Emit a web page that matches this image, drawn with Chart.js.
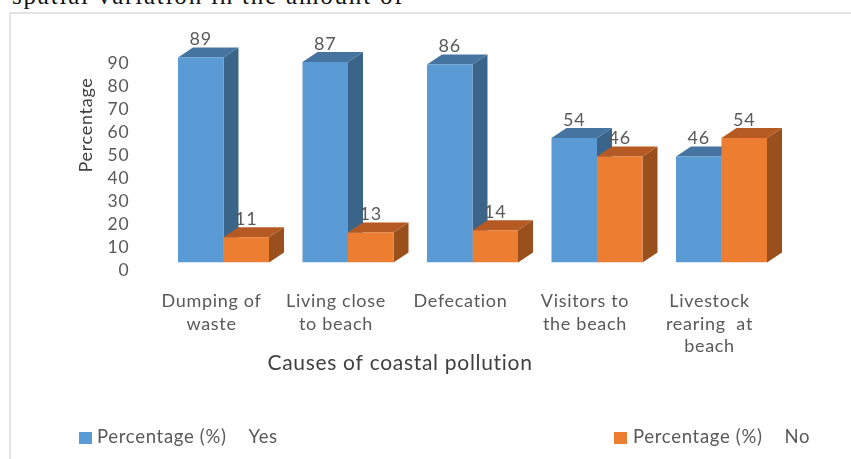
<!DOCTYPE html>
<html>
<head>
<meta charset="utf-8">
<script src="https://cdn.jsdelivr.net/npm/chart.js@4"></script>
<style>
  html, body { margin: 0; padding: 0; background: #fff; overflow: hidden; }
  #caption { position: absolute; left: 12px; top: -18px; font: 25px "Liberation Serif", serif; letter-spacing: 1.8px; color: #111; white-space: pre; }
  #frame { position: absolute; left: 9px; top: 12px; width: 900px; height: 500px; border: 2px solid #e2e2e2; box-sizing: border-box; }
  #myChart { position: absolute; left: 0; top: 0; }
</style>
</head>
<body>
<div id="caption">spatial variation in the amount of</div>
<div id="frame"></div>
<canvas id="myChart" width="851" height="459"></canvas>
<script>
var categories = [
    ['Dumping of', 'waste'],
    ['Living close', 'to beach'],
    ['Defecation'],
    ['Visitors to', 'the beach'],
    ['Livestock', 'rearing  at', 'beach']
];
var yesValues = [89, 87, 86, 54, 46];
var noValues = [11, 13, 14, 46, 54];
var yTicks = [0, 10, 20, 30, 40, 50, 60, 70, 80, 90];

var yesLabel = 'Percentage (%)    Yes';
var noLabel = 'Percentage (%)    No';
var xTitle = 'Causes of coastal pollution';
var yTitle = 'Percentage';

var fontName = 'Lato, sans-serif';
var depthX = 15;
var depthY = 10;

// side and top faces of each bar, the front face is the normal bar element
var boxFaces = {
    id: 'boxFaces',
    beforeDraw: function (chart) {
        // the lettering runs a bit wide everywhere
        chart.ctx.letterSpacing = '0.7px';
    },
    beforeDatasetsDraw: function (chart) {
        var c = chart.ctx;
        chart.data.datasets.forEach(function (ds, i) {
            chart.getDatasetMeta(i).data.forEach(function (bar) {
                var left = bar.x - bar.width / 2;
                var right = bar.x + bar.width / 2;
                c.fillStyle = ds.sideColor;
                c.beginPath();
                c.moveTo(right, bar.y);
                c.lineTo(right + depthX, bar.y - depthY);
                c.lineTo(right + depthX, bar.base - depthY);
                c.lineTo(right, bar.base);
                c.closePath();
                c.fill();
                c.fillStyle = ds.topColor;
                c.beginPath();
                c.moveTo(left, bar.y);
                c.lineTo(left + depthX, bar.y - depthY);
                c.lineTo(right + depthX, bar.y - depthY);
                c.lineTo(right, bar.y);
                c.closePath();
                c.fill();
            });
        });
    }
};

// value labels, axis titles and the two spread out legend entries
var chartText = {
    id: 'chartText',
    afterDatasetsDraw: function (chart) {
        var c = chart.ctx;
        c.save();
        c.textAlign = 'center';
        c.textBaseline = 'middle';
        c.fillStyle = '#595959';
        c.font = '18px ' + fontName;
        chart.data.datasets.forEach(function (ds, i) {
            chart.getDatasetMeta(i).data.forEach(function (bar, j) {
                c.fillText(ds.data[j], bar.x, bar.y - 18);
            });
        });

        c.fillStyle = '#404040';
        c.font = '21px ' + fontName;
        c.fillText(xTitle, 400, 363);

        c.save();
        c.translate(86, 125);
        c.rotate(-Math.PI / 2);
        c.font = '18px ' + fontName;
        c.fillText(yTitle, 0, 0);
        c.restore();

        c.textAlign = 'left';
        c.font = '18.5px ' + fontName;
        c.fillStyle = '#595959';
        c.fillText(yesLabel, 97, 437);
        c.fillText(noLabel, 633, 437);
        c.fillStyle = chart.data.datasets[0].backgroundColor;
        c.fillRect(79, 432, 13, 12);
        c.fillStyle = chart.data.datasets[1].backgroundColor;
        c.fillRect(614, 432, 13, 12);
        c.restore();
    }
};

var ctx = document.getElementById('myChart').getContext('2d');
var myChart = new Chart(ctx, {
    type: 'bar',
    plugins: [boxFaces, chartText],
    data: {
        labels: categories,
        datasets: [
            { label: yesLabel, data: yesValues, backgroundColor: '#5B9BD5', sideColor: '#3A6488', topColor: '#4674A0' },
            { label: noLabel, data: noValues, backgroundColor: '#ED7D31', sideColor: '#9A501C', topColor: '#B45A22' }
        ]
    },
    options: {
        responsive: false,
        animation: false,
        categoryPercentage: 0.731,
        barPercentage: 1,
        layout: { padding: { top: 55.2, right: 67.25, left: 0, bottom: 0 } },
        plugins: { legend: { display: false }, tooltip: { enabled: false } },
        scales: {
            x: {
                afterFit: function (scale) { scale.height = 196.5; },
                grid: { display: false },
                border: { display: false },
                ticks: {
                    color: '#595959',
                    font: { family: fontName, size: 18, lineHeight: 1.27 },
                    padding: 19,
                    labelOffset: -12,
                    maxRotation: 0,
                    autoSkip: false
                }
            },
            y: {
                min: 0,
                max: 90,
                afterFit: function (scale) { scale.width = 161.25; },
                afterBuildTicks: function (scale) {
                    scale.ticks = yTicks.map(function (v) { return { value: v }; });
                },
                grid: { display: false, drawTicks: false },
                border: { display: false },
                ticks: {
                    color: '#595959',
                    font: { family: fontName, size: 17.5 },
                    padding: 32,
                    labelOffset: 8,
                    autoSkip: false
                }
            }
        }
    }
});
</script>
</body>
</html>
